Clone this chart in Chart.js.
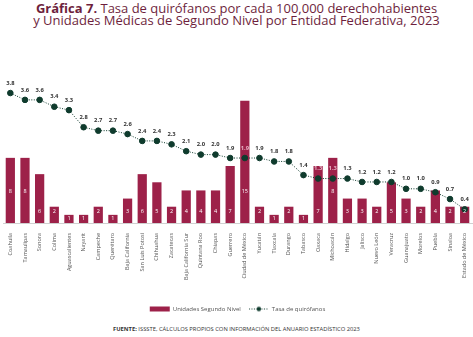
<!DOCTYPE html>
<html lang="es">
<head>
<meta charset="utf-8">
<title>Gráfica 7</title>
<script src="https://cdn.jsdelivr.net/npm/chart.js@4.4.1/dist/chart.umd.min.js"></script>
<style>
  html, body { margin: 0; padding: 0; background: #fff; }
  body { width: 473px; height: 337px; overflow: hidden; position: relative; font-family: 'Open Sans', sans-serif; }
  .titulo { position: absolute; top: 2px; left: 0; width: 473px; text-align: center; color: #6e1f3d; font-size: 13px; line-height: 12px; }
  .titulo b { font-weight: 700; }
  .grafica { position: absolute; top: 30px; left: 0; width: 473px; height: 292px; }
  .fuente { position: absolute; top: 326px; left: 0; width: 473px; text-align: center; color: #333; font-size: 5.8px; line-height: 6px; }
</style>
</head>
<body>
<div class="titulo"><b>Gráfica 7.</b> Tasa de quirófanos por cada 100,000 derechohabientes<br>y Unidades Médicas de Segundo Nivel por Entidad Federativa, 2023</div>
<div class="grafica"><canvas id="chartQuirofanos"></canvas></div>
<div class="fuente"><b>FUENTE:</b> ISSSTE, CÁLCULOS PROPIOS CON INFORMACIÓN DEL ANUARIO ESTADÍSTICO 2023</div>
<script>
'use strict';

// --- Datos por entidad ---
const entidades = [
  'Coahuila', 'Tamaulipas', 'Sonora', 'Colima', 'Aguascalientes', 'Nayarit', 'Campeche', 'Querétaro',
  'Baja California', 'San Luis Potosí', 'Chihuahua', 'Zacatecas', 'Baja California Sur', 'Quintana Roo',
  'Chiapas', 'Guerrero', 'Ciudad de México', 'Yucatán', 'Tlaxcala', 'Durango', 'Tabasco', 'Oaxaca',
  'Michoacán', 'Hidalgo', 'Jalisco', 'Nuevo León', 'Veracruz', 'Guanajuato', 'Morelos', 'Puebla',
  'Sinaloa', 'Estado de México'
];
const unidades = [8, 8, 6, 2, 1, 1, 2, 1, 3, 6, 5, 2, 4, 4, 4, 7, 15, 2, 1, 2, 1, 7, 8, 3, 3, 2, 5, 3, 2, 4, 2, 2];
const tasa = [3.8, 3.6, 3.6, 3.4, 3.3, 2.8, 2.7, 2.7, 2.6, 2.4, 2.4, 2.3, 2.1, 2.0, 2.0, 1.9, 1.9, 1.9, 1.8, 1.8,
  1.4, 1.3, 1.3, 1.3, 1.2, 1.2, 1.2, 1.0, 1.0, 0.9, 0.7, 0.4];

const colorBarra = '#9d2149';
const colorLinea = '#0f3b2d';
const colorTexto = '#555';

Chart.defaults.font.family = "'Open Sans', sans-serif";
Chart.defaults.color = colorTexto;

// muestra de leyenda para la línea punteada con marcador
function muestraLinea() {
  const c = document.createElement('canvas');
  c.width = 20; c.height = 7;
  const g = c.getContext('2d');
  g.strokeStyle = colorLinea;
  g.lineWidth = 1;
  g.setLineDash([1, 1.5]);
  g.beginPath(); g.moveTo(0, 3.5); g.lineTo(20, 3.5); g.stroke();
  g.fillStyle = colorLinea;
  g.beginPath(); g.arc(10, 3.5, 2.2, 0, Math.PI * 2); g.fill();
  return c;
}

// etiquetas de valor sobre barras y puntos
const etiquetas = {
  id: 'etiquetas',
  afterDatasetsDraw(chart) {
    const ctx = chart.ctx;
    const barras = chart.getDatasetMeta(0).data;
    const puntos = chart.getDatasetMeta(1).data;
    const base = chart.scales.yBarras.getPixelForValue(0);
    ctx.save();
    ctx.textAlign = 'center';
    ctx.textBaseline = 'middle';

    ctx.font = "5.5px 'Open Sans', sans-serif";
    ctx.fillStyle = '#fff';
    barras.forEach((b, i) => {
      const v = unidades[i];
      const y = v >= 8 ? base - 32 : Math.max(base - 12, b.y + 4);
      ctx.fillText(String(v), b.x, y);
    });

    ctx.font = "bold 5.8px 'Open Sans', sans-serif";
    puntos.forEach((p, i) => {
      const y = p.y - 10;
      ctx.fillStyle = y > barras[i].y + 2 ? '#e6b3c4' : '#333';
      ctx.fillText(tasa[i].toFixed(1), p.x, y);
    });
    ctx.restore();
  }
};

new Chart(document.getElementById('chartQuirofanos'), {
  data: {
    labels: entidades,
    datasets: [
      {
        type: 'bar',
        label: 'Unidades Segundo Nivel',
        data: unidades,
        yAxisID: 'yBarras',
        backgroundColor: colorBarra,
        categoryPercentage: 1,
        barPercentage: 0.63,
        order: 1
      },
      {
        type: 'line',
        label: 'Tasa de quirófanos',
        data: tasa,
        yAxisID: 'yTasa',
        borderColor: colorLinea,
        borderWidth: 1,
        borderDash: [1, 1.5],
        pointBackgroundColor: colorLinea,
        pointBorderColor: colorLinea,
        pointRadius: 2.8,
        tension: 0,
        order: 0
      }
    ]
  },
  options: {
    responsive: true,
    maintainAspectRatio: false,
    animation: false,
    layout: { autoPadding: false, padding: { top: 22, left: 3, right: 1, bottom: 0 } },
    plugins: {
      tooltip: { enabled: false },
      legend: {
        position: 'bottom',
        labels: {
          font: { size: 6 },
          color: colorTexto,
          usePointStyle: true,
          pointStyleWidth: 20,
          boxHeight: 5,
          padding: 8,
          sort: (a, b) => a.datasetIndex - b.datasetIndex,
          generateLabels: (chart) => chart.data.datasets.map((ds, i) => ({
            text: ds.label,
            datasetIndex: i,
            fillStyle: colorBarra,
            strokeStyle: colorBarra,
            lineWidth: 0,
            pointStyle: ds.type === 'line' ? muestraLinea() : 'rect',
            fontColor: colorTexto
          }))
        }
      }
    },
    scales: {
      x: {
        grid: { display: false, drawTicks: false },
        border: { display: true, color: '#d0d0d0' },
        ticks: { font: { size: 5.5 }, color: colorTexto, minRotation: 90, maxRotation: 90, autoSkip: false, padding: 10 },
        afterFit: (scale) => {
          scale.height = 75;
          scale.paddingLeft = 0;
          scale.paddingRight = 0;
        }
      },
      yBarras: { display: false, beginAtZero: true, min: 0, max: 21 },
      yTasa: { display: false, min: 0, max: 5 }
    }
  },
  plugins: [etiquetas]
});
</script>
</body>
</html>
